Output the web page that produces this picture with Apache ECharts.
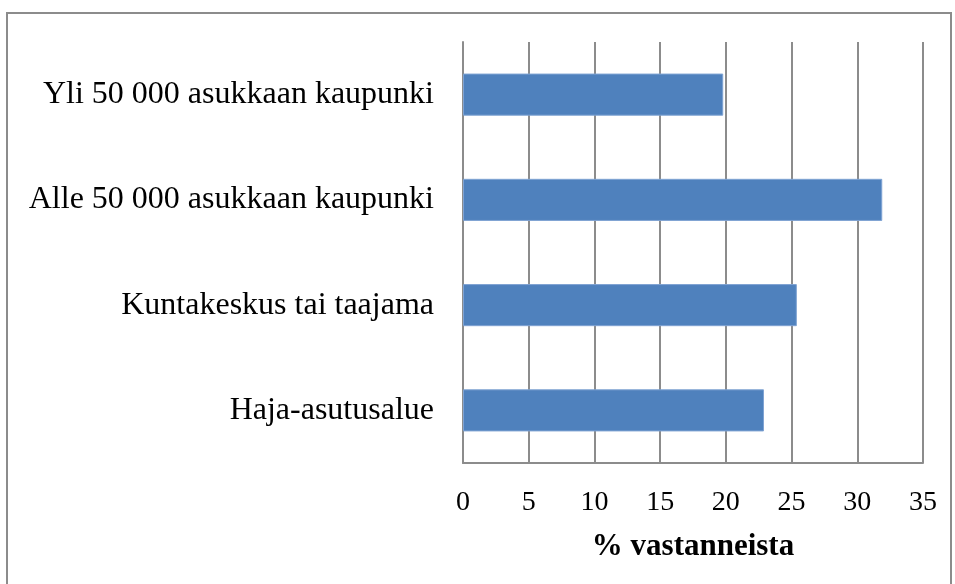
<!DOCTYPE html>
<html>
<head>
<meta charset="utf-8">
<script src="https://cdn.jsdelivr.net/npm/echarts@6/dist/echarts.min.js"></script>
<style>
    html, body { margin: 0; padding: 0; background: #fff; }
    .frame {
        position: absolute;
        left: 6px;
        top: 12px;
        width: 946px;
        height: 580px;
        border: 2px solid #8c8c8c;
        box-sizing: border-box;
    }
    #chart { position: absolute; left: 0; top: 0; width: 955px; height: 584px; }
</style>
</head>
<body>
<div class="frame"></div>
<div id="chart"></div>
<script>
// kategoriat alhaalta ylös
const categories = ['Haja-asutusalue', 'Kuntakeskus tai taajama', 'Alle 50 000 asukkaan kaupunki', 'Yli 50 000 asukkaan kaupunki'];
const values = [22.9, 25.4, 31.9, 19.8];
const xTicks = [0, 5, 10, 15, 20, 25, 30, 35];

const chart = echarts.init(document.getElementById('chart'));

const option = {
    animation: false,
    textStyle: { fontFamily: 'Liberation Serif' },
    grid: {
        left: 463,
        right: 32,
        top: 42,
        bottom: 121,
        containLabel: false
    },
    xAxis: {
        type: 'value',
        min: xTicks[0],
        max: xTicks[xTicks.length - 1],
        interval: 5,
        name: '% vastanneista',
        nameLocation: 'middle',
        nameGap: 68,
        nameTextStyle: {
            fontFamily: 'Liberation Serif',
            fontWeight: 'bold',
            fontSize: 31,
            color: '#000'
        },
        axisLine: { show: true, lineStyle: { color: '#8c8c8c', width: 2 } },
        axisTick: { show: false },
        axisLabel: {
            margin: 26,
            fontFamily: 'Liberation Serif',
            fontSize: 28,
            color: '#000'
        },
        splitLine: { show: true, lineStyle: { color: '#8c8c8c', width: 2 } }
    },
    yAxis: {
        type: 'category',
        data: categories,
        axisLine: { show: true, lineStyle: { color: '#8c8c8c', width: 2 } },
        axisTick: { show: false },
        axisLabel: {
            margin: 29,
            fontFamily: 'Liberation Serif',
            fontSize: 32,
            color: '#000'
        }
    },
    series: [
        {
            type: 'bar',
            data: values,
            barCategoryGap: '60%',
            itemStyle: {
                color: '#4F81BD',
                borderColor: '#7FA3D3',
                borderWidth: 1
            }
        }
    ]
};
chart.setOption(option);
</script>
</body>
</html>
